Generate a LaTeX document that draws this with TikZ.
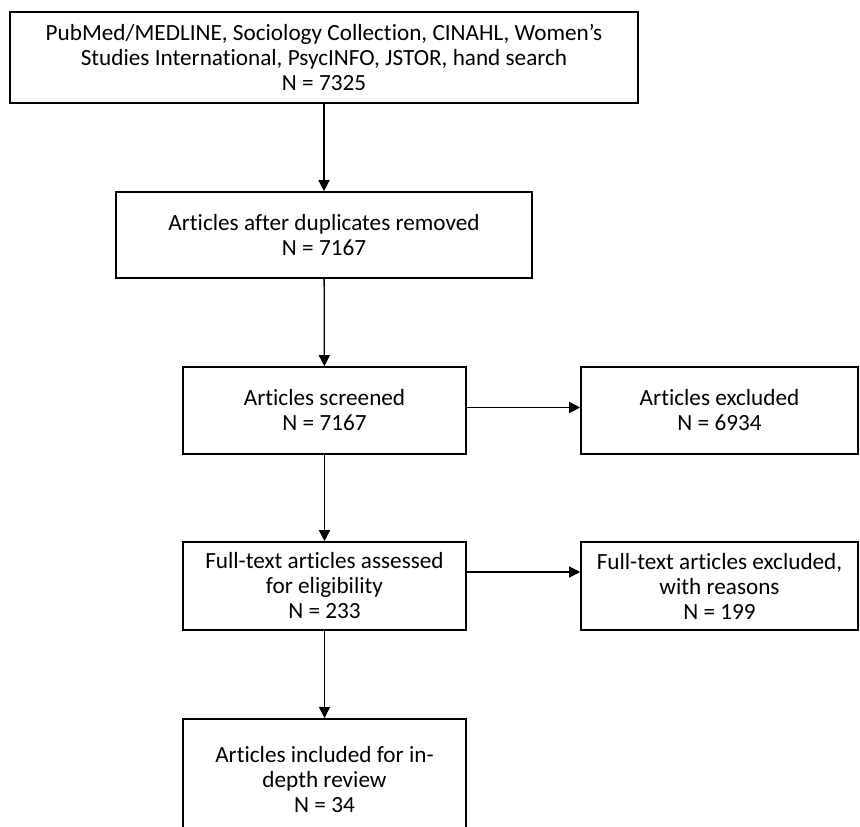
\documentclass[tikz,border=0pt]{standalone}
\usepackage{fontspec}
\setmainfont{Carlito}[Ligatures={TeX,NoCommon}]
\usepackage{tikz}
\usetikzlibrary{arrows.meta,shapes}

\begin{document}
\begin{tikzpicture}[
  box/.style={draw,line width=1.6bp,align=center,inner sep=0pt,font=\fontsize{23.2bp}{25bp}\selectfont},
  link/.style={-{Triangle[length=11bp,width=11bp]},line width=1.3bp}]
\clip (0bp,0bp) rectangle (860bp,-827bp);

\node (Srch) at (324bp,-57.5bp)[box,minimum width=628bp,minimum height=91bp] {PubMed/MEDLINE, Sociology Collection, CINAHL, Women’s\\ Studies International, PsycINFO, JSTOR, hand search\\ N = 7325};
\node (Dup) at (324bp,-235bp)[box,minimum width=416bp,minimum height=86bp] {Articles after duplicates removed\\ N = 7167};
\node (Scr) at (324.5bp,-410.5bp)[box,minimum width=283bp,minimum height=87bp] {Articles screened\\ N = 7167};
\node (Exc) at (719.5bp,-410.5bp)[box,minimum width=277bp,minimum height=87bp] {Articles excluded\\ N = 6934};
\node (Full) at (324.5bp,-586bp)[box,minimum width=283bp,minimum height=88bp] {Full-text articles assessed\\ for eligibility\\ N = 233};
\node (FExc) at (719.5bp,-586bp)[box,minimum width=277bp,minimum height=88bp] {Full-text articles excluded,\\ with reasons\\ N = 199};
\node (Inc) at (324.5bp,-718bp)[box,anchor=north,minimum width=283bp,minimum height=122bp] {Articles included for in-\\ depth review\\ N = 34};

\draw [link] (Srch) to (Dup);
\draw [link] (Dup) to (Scr);
\draw [link] (Scr) to (Full);
\draw [link] ([yshift=3bp]Scr.east) to ([yshift=3bp]Exc.west);
\draw [link] ([yshift=14bp]Full.east) to ([yshift=14bp]FExc.west);
\draw [link] (Full) to (Inc);
\end{tikzpicture}
\end{document}
